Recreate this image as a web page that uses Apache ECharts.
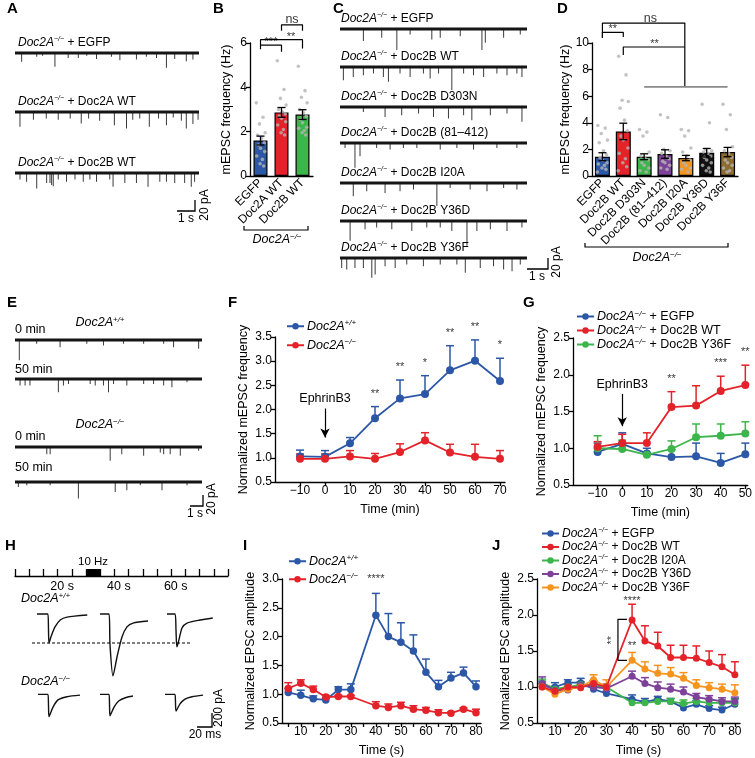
<!DOCTYPE html>
<html><head><meta charset="utf-8">
<script src="https://cdn.jsdelivr.net/npm/echarts@6/dist/echarts.min.js"></script>
<style>html,body{margin:0;padding:0;background:#fff}#c{width:755px;height:758px}</style>
</head><body><div id="c"></div>
<script>
// ================= DATA =================
// Panel A traces: [time (s), event amplitude (pA)]
const aEGFP = [[0.36,16],[1.18,7],[1.5,5],[2.17,25],[2.89,9],[3.44,9],[3.9,5],[4.43,11],[5.24,7],[5.7,13],[6.6,12],[7.14,7],[7.69,9],[8.23,27],[8.68,11],[9.31,15],[9.67,12]];
const aDoc2A = [[0.27,27],[1.0,14],[1.7,12],[2.35,14],[3.0,12],[3.6,21],[4.0,12],[4.6,16],[5.4,24],[6.06,30],[6.4,14],[6.78,12],[7.3,27],[7.8,12],[8.23,24],[8.6,10],[9.04,16],[9.31,30],[9.67,22],[9.95,14]];
const aDoc2B = [[0.27,12],[0.63,16],[1.18,28],[1.72,18],[1.9,18],[1.99,22],[2.08,24],[2.35,12],[2.8,16],[3.26,12],[3.71,16],[4.07,12],[4.43,16],[5.15,12],[5.33,25],[5.97,18],[6.6,18],[7.23,25],[7.87,16],[8.23,16],[8.68,18],[9.22,18],[9.58,25],[9.76,16]];
// Panel B
const bCategories = ['EGFP', 'Doc2A WT', 'Doc2B WT'];
const bMeans = [1.60, 2.87, 2.77];
const bSem = [0.20, 0.22, 0.22];
const bDotsEGFP = [3.30, 2.65, 2.35, 1.95, 1.85, 1.70, 1.50, 1.40, 1.25, 1.10, 0.90, 0.75, 0.55, 0.45];
const bDotsDoc2A = [5.20, 3.90, 3.50, 3.20, 3.00, 2.90, 2.80, 2.70, 2.60, 2.45, 2.30, 2.10, 1.95, 1.85];
const bDotsDoc2B = [4.95, 3.85, 3.55, 3.30, 3.00, 2.85, 2.70, 2.55, 2.40, 2.20, 2.15, 2.05, 1.95, 1.85];
// Panel C traces
const cEGFP = [[1.25,22],[2.23,16],[3.04,38],[3.75,10],[4.91,19],[5.36,16],[6.43,13],[7.59,38],[7.77,25],[8.75,16],[9.64,10]];
const cWT = [[0.18,24],[0.71,18],[1.25,15],[1.79,12],[2.32,18],[2.59,27],[3.21,12],[3.75,18],[4.46,12],[4.82,21],[5.27,12],[5.98,42],[6.61,12],[7.14,15],[7.68,18],[8.39,12],[8.93,15],[9.46,12],[9.73,18]];
const cD303N = [[1.25,9],[2.41,18],[3.30,15],[4.20,12],[5.0,18],[5.80,21],[6.61,15],[7.05,24],[8.04,15],[8.93,12],[9.73,27]];
const c81 = [[0.27,9],[0.80,45],[1.07,24],[1.96,9],[2.68,12],[3.39,9],[4.11,9],[5.36,12],[6.25,9],[7.14,12],[8.39,9],[9.46,9]];
const cI20A = [[0.71,24],[1.43,15],[2.41,18],[3.21,15],[3.93,12],[5.18,42],[5.89,9],[6.96,12],[7.86,15],[8.75,9],[9.46,12]];
const cY36D = [[0.54,36],[1.34,15],[1.96,12],[2.77,15],[3.84,18],[4.64,12],[5.36,12],[5.98,18],[6.79,45],[7.32,18],[8.04,15],[8.93,18],[9.73,12]];
const cY36F = [[0.09,18],[0.36,21],[0.80,18],[1.25,18],[1.70,36],[1.88,30],[2.41,15],[2.95,18],[3.57,12],[4.46,15],[5.36,12],[6.25,12],[6.70,27],[7.50,18],[8.21,15],[8.75,21],[9.20,24],[9.64,12]];
// Panel D
const dCategories = ['EGFP','Doc2B WT','Doc2B D303N','Doc2B (81–412)','Doc2B I20A','Doc2B Y36D','Doc2B Y36F'];
const dMeans = [1.45, 3.35, 1.45, 1.65, 1.35, 1.75, 1.80];
const dSem = [0.30, 0.62, 0.22, 0.32, 0.20, 0.32, 0.35];
const dDotsEGFP = [3.8,3.6,3.2,2.7,2.5,1.9,1.6,1.4,1.2,1.0,0.9,0.8,0.6,0.5,0.3];
const dDotsWT = [9.0,7.6,5.7,5.6,5.1,4.2,3.4,3.0,2.7,2.1,1.7,1.3,1.0,0.7,0.4];
const dDotsD303N = [3.5,3.3,3.0,1.8,1.5,1.3,1.2,1.0,0.8,0.6,0.4,0.3];
const dDots81 = [4.6,4.4,2.0,1.9,1.7,1.5,1.3,1.1,1.0,0.8,0.6,0.5];
const dDotsI20A = [3.5,3.4,3.0,2.1,1.8,1.5,1.2,1.0,0.8,0.6,0.5,0.3];
const dDotsY36D = [5.4,4.0,2.0,1.9,1.8,1.7,1.5,1.4,1.2,1.0,0.8,0.6,0.4,0.3];
const dDotsY36F = [5.4,4.6,3.5,2.2,1.9,1.7,1.4,1.2,1.0,0.8,0.6,0.4,0.3];
// Panel E traces
const eWT0 = [[0.23,37],[1.16,7],[2.41,13],[3.84,7],[4.73,10],[5.8,7],[6.88,7],[7.95,7],[8.48,13],[9.82,16]];
const eWT50 = [[0.27,12],[0.54,12],[0.80,12],[2.32,24],[2.59,12],[2.86,9],[4.02,9],[4.29,12],[4.73,12],[5.0,24],[5.27,9],[5.98,12],[6.88,9],[7.41,9],[7.95,12],[8.39,15],[9.2,6]];
const eKO0 = [[1.70,13],[1.88,13],[5.09,25],[5.71,13],[6.88,16],[7.77,10],[7.95,13],[8.30,13],[8.84,16],[9.82,7]];
const eKO50 = [[0.18,9],[0.63,6],[1.88,6],[3.39,30],[5.36,18],[5.98,15],[6.7,6],[7.86,15],[9.2,6]];
// Panel F
const fTime = [-10, 0, 10, 20, 30, 40, 50, 60, 70];
const fWT = [1.03, 1.02, 1.30, 1.82, 2.23, 2.32, 2.81, 3.01, 2.59];
const fWTerr = [0.13, 0.13, 0.12, 0.24, 0.38, 0.38, 0.51, 0.43, 0.47];
const fKO = [0.98, 0.98, 1.03, 0.98, 1.12, 1.36, 1.11, 1.02, 0.98];
const fKOerr = [0.10, 0.10, 0.12, 0.11, 0.17, 0.16, 0.17, 0.26, 0.17];
const fStars = [[20,'**'],[30,'**'],[40,'*'],[50,'**'],[60,'**'],[70,'*']];
const fTicks = [-10, 0, 10, 20, 30, 40, 50, 60, 70];
// Panel G
const gTime = [-10, 0, 10, 20, 30, 40, 50];
const gEGFP = [0.95, 1.06, 0.93, 0.88, 0.89, 0.80, 0.92];
const gEGFPerr = [0.12, 0.15, 0.07, 0.10, 0.18, 0.13, 0.15];
const gWT = [1.02, 1.07, 1.07, 1.56, 1.58, 1.78, 1.86];
const gWTerr = [0.07, 0.12, 0.14, 0.21, 0.27, 0.20, 0.27];
const gY36F = [1.00, 0.99, 0.91, 0.99, 1.15, 1.17, 1.20];
const gY36Ferr = [0.17, 0.12, 0.03, 0.11, 0.18, 0.16, 0.16];
const gStars = [[20,'**'],[40,'***'],[50,'**']];
const gTicks = [-10, 0, 10, 20, 30, 40, 50];
// Panel H
const hTicks = [5,10,15,20,25,30,35,40,45,50,55,60,65,70,75,80];
const hTickLabels = [20, 40, 60];
const hTrain = [30, 35];
const hWT1 = [[0,0],[14.5,0],[15.3,-210],[16,-415],[19,-315],[24,-185],[31,-85],[40,-45],[67,-15]];
const hWT2 = [[0,0],[12,0],[13.3,-430],[17.3,-885],[22.7,-615],[29.3,-330],[36,-185],[44,-130],[64,-100]];
const hWT3 = [[0,0],[10.7,0],[12,-230],[13.3,-470],[20,-200],[26.7,-130],[44,-86],[61,-57]];
const hKO1 = [[0,0],[13.3,0],[14,-200],[14.7,-400],[20,-230],[26.7,-100],[38.7,-43],[56,-14]];
const hKO2 = [[0,0],[12,0],[12.7,-195],[13.3,-385],[18.7,-230],[25.3,-115],[34.7,-57],[44,-30]];
const hKO3 = [[0,0],[13.3,0],[14,-155],[14.7,-300],[20,-170],[26.7,-85],[36,-43],[50.7,-14]];
// Panel I
const iTime = [5,10,15,20,25,30,40,45,50,55,60,65,70,75,80];
const iWT = [1.03,0.98,0.92,0.90,1.08,1.08,2.37,2.00,1.90,1.75,1.38,1.13,1.28,1.37,1.13];
const iWTerr = [0.07,0.09,0.05,0.03,0.05,0.10,0.38,0.40,0.34,0.28,0.23,0.11,0.10,0.10,0.10];
const iKO = [1.10,1.19,1.08,0.95,0.96,0.96,0.80,0.77,0.80,0.74,0.72,0.68,0.67,0.74,0.68];
const iKOerr = [0.10,0.06,0.06,0.03,0.02,0.02,0.07,0.06,0.06,0.06,0.05,0.05,0.02,0.02,0.06];
const ijTicks = [5,10,15,20,25,30,35,40,45,50,55,60,65,70,75,80];
const ijLabels = [10,20,30,40,50,60,70,80];
// Panel J
const jTime = [5,10,15,20,25,30,40,45,50,55,60,65,70,75,80];
const jEGFP = [1.01,1.00,1.06,1.06,0.97,0.91,0.83,0.79,0.83,0.80,0.71,0.76,0.70,0.68,0.76];
const jEGFPerr = [0.07,0.06,0.04,0.06,0.04,0.03,0.06,0.05,0.04,0.04,0.05,0.05,0.04,0.04,0.08];
const jWT = [1.00,0.94,1.00,0.99,1.05,1.00,1.93,1.64,1.57,1.41,1.41,1.40,1.34,1.28,1.17];
const jWTerr = [0.05,0.05,0.04,0.04,0.04,0.04,0.22,0.21,0.19,0.17,0.17,0.17,0.16,0.17,0.18];
const jI20A = [1.06,0.97,1.00,1.03,1.02,1.00,0.78,0.78,0.80,0.80,0.77,0.80,0.78,0.78,0.78];
const jI20Aerr = [0.05,0.04,0.03,0.04,0.03,0.03,0.04,0.03,0.04,0.04,0.05,0.04,0.04,0.04,0.05];
const jY36D = [1.05,0.95,0.96,1.02,1.00,0.98,1.15,1.05,0.99,0.97,0.93,0.86,0.83,0.80,0.80];
const jY36Derr = [0.09,0.04,0.04,0.05,0.04,0.04,0.07,0.08,0.08,0.07,0.07,0.05,0.05,0.05,0.06];
const jY36F = [1.00,0.90,0.97,1.00,1.10,1.00,1.37,1.25,1.19,1.18,1.12,1.02,0.99,0.97,0.92];
const jY36Ferr = [0.04,0.04,0.04,0.04,0.07,0.10,0.11,0.10,0.11,0.09,0.08,0.08,0.07,0.07,0.11];

// ================= STYLE / LAYOUT =================
const FONT = '"Liberation Sans", Arial, Helvetica, sans-serif';
const COL = {blue:'#2c57a7', red:'#e4222a', green:'#3cb54a', purple:'#7e4199', orange:'#f7941e', black:'#111111', brown:'#8c6c31', dot:'#b4b4b4'};
function R(fs, lh){ lh = lh || fs+2; return {
  i:{fontStyle:'italic', fontFamily:FONT, fontSize:fs, color:'#000', lineHeight:lh},
  s:{fontStyle:'italic', fontFamily:FONT, fontSize:Math.round(fs*0.62), color:'#000', verticalAlign:'top', lineHeight:lh, padding:[0,0,Math.round(fs*0.45),0]},
  n:{fontFamily:FONT, fontSize:fs, color:'#000', lineHeight:lh}
};}
function geno(sup, rest){ return '{i|Doc2A}{s|' + sup + '}' + (rest ? '{n|' + rest + '}' : ''); }
const KO = '−/−', WT = '+/+';
const JIT = [-0.20,0.12,-0.05,0.22,-0.14,0.05,0.18,-0.10,0.0,0.20,-0.18,0.09,-0.02,0.15,-0.22];

const grids = [], xAxes = [], yAxes = [], series = [], legends = [], graphics = [];
function addGrid(rect, xa, ya){
  const gi = grids.push(Object.assign({containLabel:false}, rect)) - 1;
  xAxes.push(Object.assign({gridIndex:gi}, xa));
  yAxes.push(Object.assign({gridIndex:gi}, ya));
  return {g:gi, x:xAxes.length-1, y:yAxes.length-1};
}
function hidden(min, max){ return {type:'value', show:false, min:min, max:max, splitLine:{show:false}}; }
function vis(extra){
  const base = {type:'value',
    axisLine:{show:true, onZero:false, lineStyle:{color:'#000', width:1.3}},
    axisTick:{show:true, length:4, lineStyle:{color:'#000', width:1.3}},
    axisLabel:{color:'#000', fontSize:12, fontFamily:FONT, margin:3},
    splitLine:{show:false},
    nameTextStyle:{color:'#000', fontSize:12.5, fontFamily:FONT}};
  for (const k in extra){
    if (base[k] && typeof base[k]==='object' && !Array.isArray(base[k]) && typeof extra[k]==='object' && !Array.isArray(extra[k])) base[k] = Object.assign({}, base[k], extra[k]);
    else base[k] = extra[k];
  }
  return base;
}
function gtext(x, y, text, opt){
  opt = opt || {};
  graphics.push({type:'text', x:x, y:y, rotation:opt.rot||0, silent:true, z:10, style:{
    text:text, fill:'#000', font:(opt.bold?'bold ':'') + (opt.italic?'italic ':'') + (opt.fs||12) + 'px ' + FONT,
    textAlign:opt.align||'left', textVerticalAlign:opt.va||'middle', rich:opt.rich}});
}
function gline(points, opt){
  opt = opt || {};
  graphics.push({type:'polyline', silent:true, z:10, shape:{points:points}, style:{stroke:opt.color||'#000', lineWidth:opt.w||1.2, fill:null, lineDash:opt.dash||null}});
}
function textSeries(ax, pts, opt){
  series.push({type:'scatter', xAxisIndex:ax.x, yAxisIndex:ax.y, clip:false, silent:true, z:6,
    symbolSize:1, itemStyle:{color:'rgba(0,0,0,0)'},
    data:pts.map(p => ({value:[p[0], p[1]], label:{formatter:p[2]}})),
    label:Object.assign({show:true, position:'top', distance:0, color:'#000', fontSize:12, fontFamily:FONT}, opt||{})});
}
function bracket(ax, pts, color, w){
  series.push({type:'line', xAxisIndex:ax.x, yAxisIndex:ax.y, data:pts, symbol:'none', clip:false, silent:true, z:5,
    lineStyle:{color:color||'#000', width:w||1.2}});
}
function errSeries(ax, data, color, capW, both, lw){
  series.push({type:'custom', xAxisIndex:ax.x, yAxisIndex:ax.y, data:data, clip:false, silent:true, z:both?4:2,
    renderItem:function(params, api){
      const x = api.value(0), lo = api.value(1), hi = api.value(2);
      const p1 = api.coord([x, lo]), p2 = api.coord([x, hi]);
      const st = {stroke:color, lineWidth:lw||1.5};
      const ch = [{type:'line', shape:{x1:p1[0], y1:p1[1], x2:p2[0], y2:p2[1]}, style:st},
                  {type:'line', shape:{x1:p2[0]-capW/2, y1:p2[1], x2:p2[0]+capW/2, y2:p2[1]}, style:st}];
      if (both) ch.push({type:'line', shape:{x1:p1[0]-capW/2, y1:p1[1], x2:p1[0]+capW/2, y2:p1[1]}, style:st});
      return {type:'group', children:ch};
    }});
}
function upErr(t, m, e){ return t.map((x,i) => [x, m[i], m[i] + e[i]]); }
function pts(t, m){ return t.map((x,i) => [x, m[i]]); }

// mEPSC trace: baseline + events
const PA_PER_PX = 1.82;
function mTrace(left, width, baseline, events){
  const ax = addGrid({left:left, top:baseline-5, width:width, height:32}, hidden(0, 10), hidden(-27*PA_PER_PX, 5*PA_PER_PX));
  series.push({type:'line', xAxisIndex:ax.x, yAxisIndex:ax.y, data:[[0,0],[10,0]], symbol:'none', silent:true, z:3,
    lineStyle:{color:'#151515', width:3}});
  series.push({type:'bar', xAxisIndex:ax.x, yAxisIndex:ax.y, data:events.map(e => [e[0], -e[1]]), barWidth:1, silent:true, z:2,
    itemStyle:{color:'#3a3a3a'}});
  return ax;
}

// ---------- Letters ----------
[['A',7,9],['B',213,9],['C',333,9],['D',557,9],['E',7,303],['F',228,303],['G',523,303],['H',5,546],['I',243,546],['J',492,546]]
  .forEach(l => gtext(l[1], l[2], l[0], {bold:true, fs:15}));

// ---------- Panel A ----------
const aRows = [[aEGFP,' + EGFP',53],[aDoc2A,' + Doc2A WT',112],[aDoc2B,' + Doc2B WT',173]];
aRows.forEach(r => { mTrace(15, 184, r[2], r[0]); gtext(18, r[2]-10, geno(KO, r[1]), {rich:R(12)}); });
gline([[177,211],[195,211],[195,200]], {w:1.3});
gtext(186, 219, '1 s', {align:'center', fs:12});
gtext(205, 205, '20 pA', {align:'center', fs:12, rot:Math.PI/2});

// ---------- Panel B ----------
const B = addGrid({left:250, top:43, width:63, height:133},
  vis({type:'category', data:bCategories, axisTick:{show:false}, axisLabel:{rotate:45, margin:5, fontSize:12, interval:0}}),
  vis({min:0, max:6, interval:2, name:'mEPSC frequency (Hz)', nameLocation:'middle', nameGap:17}));
xAxes.push(Object.assign({gridIndex:B.g}, hidden(-0.5, 2.5)));
const Bv = {x:xAxes.length-1, y:B.y};
const bColors = [COL.blue, COL.red, COL.green];
series.push({type:'bar', xAxisIndex:B.x, yAxisIndex:B.y, barWidth:14, silent:true, z:2,
  data:bMeans.map((v,i) => ({value:v, itemStyle:{color:bColors[i], borderColor:'#000', borderWidth:1.2}}))});
[bDotsEGFP, bDotsDoc2A, bDotsDoc2B].forEach((arr, ci) => {
  series.push({type:'scatter', xAxisIndex:Bv.x, yAxisIndex:Bv.y, symbolSize:3.6, silent:true, z:3, clip:false,
    itemStyle:{color:COL.dot}, data:arr.map((v,k) => [ci + JIT[k%JIT.length]*1.0, v])});
});
errSeries(Bv, bMeans.map((m,i) => [i, m-bSem[i], m+bSem[i]]), '#000', 8, true, 1.3);
bracket(Bv, [[0,5.72],[0,5.9],[1,5.9],[1,5.6]]);
bracket(Bv, [[0,5.9],[0,6.15],[2,6.15],[2,5.75]]);
bracket(Bv, [[1,6.55],[1,6.82],[2,6.82],[2,6.55]]);
textSeries(Bv, [[0.5,5.9,'***'],[1.45,6.15,'**']], {distance:-3, fontSize:11});
textSeries(Bv, [[1.5,6.82,'ns']], {distance:-2, fontSize:12.5});
gline([[244,226],[244,230],[308,230],[308,226]], {w:1.2});
gtext(277, 240, geno(KO), {align:'center', rich:R(12.5)});

// ---------- Panel C ----------
const cRows = [[cEGFP,' + EGFP',29],[cWT,' + Doc2B WT',67],[cD303N,' + Doc2B D303N',107],[c81,' + Doc2B (81–412)',143],[cI20A,' + Doc2B I20A',183],[cY36D,' + Doc2B Y36D',221],[cY36F,' + Doc2B Y36F',258]];
cRows.forEach(r => { mTrace(340, 187, r[2], r[0]); gtext(341, r[2]-10, geno(KO, r[1]), {rich:R(12)}); });
gline([[527,269],[548,269],[548,258]], {w:1.3});
gtext(537, 277, '1 s', {align:'center', fs:12});
gtext(557, 262, '20 pA', {align:'center', fs:12, rot:Math.PI/2});

// ---------- Panel D ----------
const D = addGrid({left:592, top:43, width:146, height:133},
  vis({type:'category', data:dCategories, axisTick:{show:false}, axisLabel:{rotate:45, margin:5, fontSize:12, interval:0}}),
  vis({min:0, max:10, interval:2, name:'mEPSC frequency (Hz)', nameLocation:'middle', nameGap:19}));
xAxes.push(Object.assign({gridIndex:D.g}, hidden(-0.5, 6.5)));
const Dv = {x:xAxes.length-1, y:D.y};
const dColors = [COL.blue, COL.red, COL.green, COL.purple, COL.orange, COL.black, COL.brown];
series.push({type:'bar', xAxisIndex:D.x, yAxisIndex:D.y, barWidth:15, silent:true, z:2,
  data:dMeans.map((v,i) => ({value:v, itemStyle:{color:dColors[i], borderColor:'#000', borderWidth:1.2}}))});
[dDotsEGFP, dDotsWT, dDotsD303N, dDots81, dDotsI20A, dDotsY36D, dDotsY36F].forEach((arr, ci) => {
  series.push({type:'scatter', xAxisIndex:Dv.x, yAxisIndex:Dv.y, symbolSize:3.6, silent:true, z:3, clip:false,
    itemStyle:{color:COL.dot}, data:arr.map((v,k) => [ci + JIT[k%JIT.length]*1.1, v])});
});
errSeries(Dv, dMeans.map((m,i) => [i, m-dSem[i], m+dSem[i]]), '#000', 8, true, 1.3);
bracket(Dv, [[0,10.4],[0,11.5],[3.95,11.5],[3.95,6.7]]);
bracket(Dv, [[0,10.4],[0,10.8],[1,10.8],[1,10.45]]);
bracket(Dv, [[1,9.1],[1,9.7],[3.95,9.7]]);
bracket(Dv, [[2,6.7],[6,6.7]], '#8a8a8a', 1.6);
textSeries(Dv, [[0.5,10.8,'**'],[2.5,9.7,'**']], {distance:-3, fontSize:11});
textSeries(Dv, [[2.3,11.5,'ns']], {distance:-2, fontSize:12.5});
gline([[585,243],[585,247],[728,247],[728,243]], {w:1.2});
gtext(657, 258, geno(KO), {align:'center', rich:R(12.5)});

// ---------- Panel E ----------
const eRows = [[eWT0,340],[eWT50,379],[eKO0,447],[eKO50,482]];
eRows.forEach(r => mTrace(15, 187, r[1], r[0]));
gtext(100, 323, geno(WT), {align:'center', rich:R(12.5)});
gtext(100, 425, geno(KO), {align:'center', rich:R(12.5)});
gtext(15, 330, '0 min', {fs:12.5});
gtext(15, 370, '50 min', {fs:12.5});
gtext(15, 437, '0 min', {fs:12.5});
gtext(15, 468, '50 min', {fs:12.5});
gline([[190,506],[203,506],[203,495]], {w:1.3});
gtext(195, 514, '1 s', {align:'center', fs:12});
gtext(212, 499, '20 pA', {align:'center', fs:12, rot:Math.PI/2});

// ---------- line-chart helpers ----------
const minus = v => String(v).replace('-', '−');
function lineChart(rect, xmin, xmax, ticks, labels, ymin, ymax, yname, xname){
  return addGrid(rect,
    vis({min:xmin, max:xmax, name:xname, nameLocation:'middle', nameGap:21,
      axisTick:{customValues:ticks}, axisLabel:{customValues:labels, formatter:minus}}),
    vis({min:ymin, max:ymax, interval:0.5, name:yname, nameLocation:'middle', nameGap:25,
      axisLabel:{formatter:v => v.toFixed(1)}}));
}
function lineSeries(ax, name, t, m, color, size){
  series.push({name:name, type:'line', xAxisIndex:ax.x, yAxisIndex:ax.y, data:pts(t, m), symbol:'circle', symbolSize:size||8,
    silent:true, z:3, itemStyle:{color:color}, lineStyle:{color:color, width:1.8}});
  return series[series.length-1];
}
const LEG = {};
function legend(names, labels, left, top, fs, gap, lh){
  names.forEach((n,i) => LEG[n] = labels[i]);
  legends.push({orient:'vertical', left:left, top:top, padding:0, itemWidth:17, itemHeight:8, itemGap:gap, data:names,
    selectedMode:false, formatter:n => LEG[n], textStyle:{fontFamily:FONT, fontSize:fs, color:'#000', rich:R(fs, lh), padding:[0,0,0,-2]}});
}
function arrow(s, x, y1, y2){
  s.markLine = {silent:true, symbol:['none','arrow'], symbolSize:[7,9], animation:false,
    lineStyle:{color:'#000', width:1.2, type:'solid'},
    label:{show:true, position:'start', formatter:'EphrinB3', color:'#000', fontSize:12.5, fontFamily:FONT, distance:3},
    data:[[{coord:[x, y1]}, {coord:[x, y2]}]]};
}

// ---------- Panel F ----------
const F = lineChart({left:275, top:337, width:230, height:145}, -20, 72, fTicks, fTicks, 0.5, 3.5, 'Normalized mEPSC frequency', 'Time (min)');
errSeries(F, upErr(fTime, fWT, fWTerr), COL.blue, 8, false);
errSeries(F, upErr(fTime, fKO, fKOerr), COL.red, 8, false);
lineSeries(F, 'F1', fTime, fWT, COL.blue);
arrow(lineSeries(F, 'F2', fTime, fKO, COL.red), 0, 2.02, 1.42);
textSeries(F, fStars.map(s => { const i = fTime.indexOf(s[0]); return [s[0], fWT[i]+fWTerr[i], s[1]]; }), {distance:7, fontSize:11});
legend(['F1','F2'], [geno(WT), geno(KO)], 286, 319, 12.5, 5);

// ---------- Panel G ----------
const G = lineChart({left:573, top:338, width:177, height:147}, -20, 51, gTicks, gTicks, 0.5, 2.5, 'Normalized mEPSC frequency', 'Time (min)');
errSeries(G, upErr(gTime, gEGFP, gEGFPerr), COL.blue, 8, false);
errSeries(G, upErr(gTime, gWT, gWTerr), COL.red, 8, false);
errSeries(G, upErr(gTime, gY36F, gY36Ferr), COL.green, 8, false);
lineSeries(G, 'G1', gTime, gEGFP, COL.blue);
lineSeries(G, 'G3', gTime, gY36F, COL.green);
arrow(lineSeries(G, 'G2', gTime, gWT, COL.red), 0, 1.74, 1.3);
textSeries(G, gStars.map(s => { const i = gTime.indexOf(s[0]); return [s[0], gWT[i]+gWTerr[i], s[1]]; }), {distance:7, fontSize:11});
legend(['G1','G2','G3'], [geno(KO,' + EGFP'), geno(KO,' + Doc2B WT'), geno(KO,' + Doc2B Y36F')], 576, 310, 12.5, 0, 13);

// ---------- Panel H ----------
const H = addGrid({left:15, top:569, width:213, height:7},
  vis({min:5, max:80, axisLine:{show:true, lineStyle:{color:'#000', width:1.3}},
    axisTick:{inside:true, length:7, customValues:hTicks}, axisLabel:{customValues:hTickLabels, formatter:v => v + ' s', fontSize:12.5, margin:4, padding:[0,0,0,9]}}),
  hidden(0, 1));
series.push({type:'line', xAxisIndex:H.x, yAxisIndex:H.y, data:[], silent:true,
  markArea:{silent:true, itemStyle:{color:'#000'}, label:{show:true, position:'top', formatter:'10 Hz', color:'#000', fontSize:11.5, fontFamily:FONT, distance:1},
    data:[[{xAxis:hTrain[0]}, {xAxis:hTrain[1]}]]}});
const PX_PER_MS = 0.75, PA_PER_PX_H = 14.3;
function hTrace(left, baseline, data){
  const dur = data[data.length-1][0];
  const ax = addGrid({left:left, top:baseline-8, width:dur*PX_PER_MS, height:88}, hidden(0, dur), hidden(-80*PA_PER_PX_H, 8*PA_PER_PX_H));
  series.push({type:'line', xAxisIndex:ax.x, yAxisIndex:ax.y, data:data, symbol:'none', silent:true, z:3, smooth:0.25,
    lineStyle:{color:'#111', width:1.4}});
  return ax;
}
const HWT_BASE = 614, HKO_BASE = 696;
hTrace(37, HWT_BASE, hWT1); hTrace(100, HWT_BASE, hWT2); hTrace(167, HWT_BASE, hWT3);
hTrace(38, HKO_BASE, hKO1); hTrace(100, HKO_BASE, hKO2); hTrace(165, HKO_BASE, hKO3);
const wt1Peak = Math.min.apply(null, hWT1.map(p => p[1]));
const dashY = HWT_BASE - wt1Peak / PA_PER_PX_H;
gline([[32, dashY], [190, dashY]], {w:1.1, dash:[3,2]});
gtext(21, 599, geno(WT), {rich:R(12.5)});
gtext(21, 682, geno(KO), {rich:R(12.5)});
gline([[197,727],[212,727],[212,713]], {w:1.3});
gtext(205, 735, '20 ms', {align:'center', fs:12});
gtext(219, 708, '200 pA', {align:'center', fs:12, rot:Math.PI/2});

// ---------- Panel I ----------
const I = lineChart({left:282, top:579, width:199, height:147}, 2.5, 82, ijTicks, ijLabels, 0.5, 3.0, 'Normalized EPSC amplitude', 'Time (s)');
errSeries(I, upErr(iTime, iWT, iWTerr), COL.blue, 8, false);
errSeries(I, upErr(iTime, iKO, iKOerr), COL.red, 8, false);
lineSeries(I, 'I1', iTime, iWT, COL.blue, 7.5);
lineSeries(I, 'I2', iTime, iKO, COL.red, 7.5);
textSeries(I, [[40, iWT[6]+iWTerr[6], '****']], {distance:8, fontSize:11});
legend(['I1','I2'], [geno(WT), geno(KO)], 288, 554, 12.5, 4);

// ---------- Panel J ----------
const J = lineChart({left:537, top:579, width:203, height:146}, 3, 82, ijTicks, ijLabels, 0.5, 2.5, 'Normalized EPSC amplitude', 'Time (s)');
errSeries(J, upErr(jTime, jEGFP, jEGFPerr), COL.blue, 8, false);
errSeries(J, upErr(jTime, jI20A, jI20Aerr), COL.green, 8, false);
errSeries(J, upErr(jTime, jY36D, jY36Derr), COL.purple, 8, false);
errSeries(J, upErr(jTime, jY36F, jY36Ferr), COL.orange, 8, false);
errSeries(J, upErr(jTime, jWT, jWTerr), COL.red, 8, false);
lineSeries(J, 'J1', jTime, jEGFP, COL.blue, 7);
lineSeries(J, 'J3', jTime, jI20A, COL.green, 7);
lineSeries(J, 'J4', jTime, jY36D, COL.purple, 7);
lineSeries(J, 'J5', jTime, jY36F, COL.orange, 7);
lineSeries(J, 'J2', jTime, jWT, COL.red, 7);
textSeries(J, [[40, jWT[6]+jWTerr[6], '****']], {distance:-3, fontSize:11});
textSeries(J, [[40, jY36F[6]+jY36Ferr[6], '**']], {distance:0, fontSize:11});
bracket(J, [[38,1.94],[34.5,1.94],[34.5,1.37],[38,1.37]]);
textSeries(J, [[32.3, 1.65, '**']], {position:'inside', rotate:90, fontSize:11});
legend(['J1','J2','J3','J4','J5'], [geno(KO,' + EGFP'), geno(KO,' + Doc2B WT'), geno(KO,' + Doc2B I20A'), geno(KO,' + Doc2B Y36D'), geno(KO,' + Doc2B Y36F')], 541, 527, 12, 1, 13);

// ================= RENDER =================
const chart = echarts.init(document.getElementById('c'), null, {renderer:'canvas', width:755, height:758});
chart.setOption({animation:false, backgroundColor:'#ffffff', textStyle:{fontFamily:FONT},
  grid:grids, xAxis:xAxes, yAxis:yAxes, series:series, legend:legends, graphic:{elements:graphics}});
</script></body></html>
